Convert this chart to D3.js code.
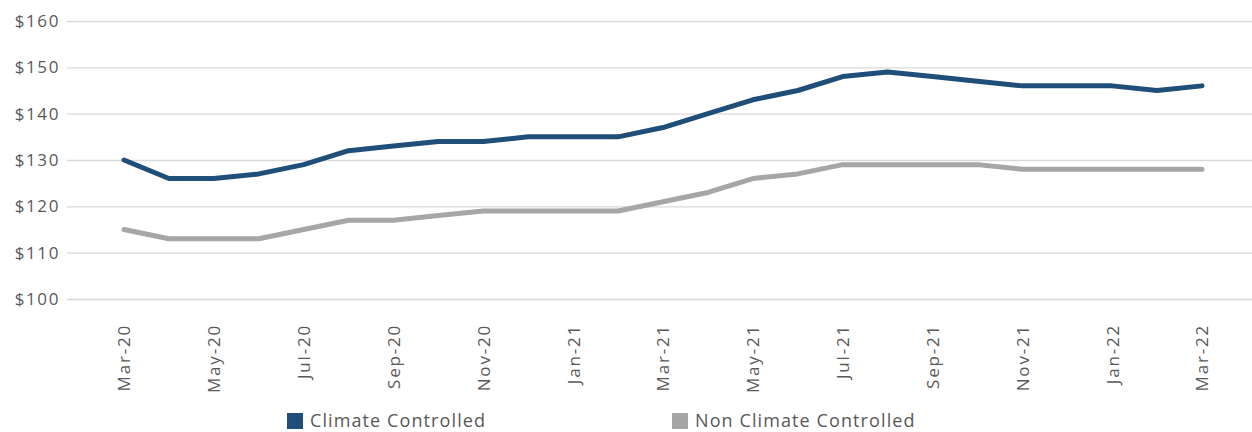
<!DOCTYPE html>
<html>
<head>
<meta charset="utf-8">
<script src="https://cdn.jsdelivr.net/npm/d3@7"></script>
<style>
    body { margin: 0; background: #ffffff; }
    text { font-family: "Open Sans", sans-serif; fill: #595959; }
</style>
</head>
<body>
<svg id="chart" width="1252" height="432"></svg>
<script>
const months = ["Mar-20", "Apr-20", "May-20", "Jun-20", "Jul-20", "Aug-20", "Sep-20", "Oct-20", "Nov-20",
    "Dec-20", "Jan-21", "Feb-21", "Mar-21", "Apr-21", "May-21", "Jun-21", "Jul-21", "Aug-21", "Sep-21",
    "Oct-21", "Nov-21", "Dec-21", "Jan-22", "Feb-22", "Mar-22"];
const climate = [130, 126, 126, 127, 129, 132, 133, 134, 134, 135, 135, 135, 137, 140, 143, 145, 148, 149, 148,
    147, 146, 146, 146, 145, 146];
const non_climate = [115, 113, 113, 113, 115, 117, 117, 118, 119, 119, 119, 119, 121, 123, 126, 127, 129, 129, 129,
    129, 128, 128, 128, 128, 128];
const y_ticks = [100, 110, 120, 130, 140, 150, 160];
const series = [
    {name: "Climate Controlled", values: climate, color: "#1f4e79"},
    {name: "Non Climate Controlled", values: non_climate, color: "#a6a6a6"}
];

const svg = d3.select("#chart");

const x = d3.scalePoint().domain(months).range([124, 1202]);
const y = d3.scaleLinear().domain([100, 160]).range([299, 21]);

// gridlines + y labels
const y_axis = svg.append("g")
    .attr("transform", "translate(67,0)")
    .call(d3.axisLeft(y).tickValues(y_ticks).tickSize(-1185).tickFormat(d => "$" + d).tickPadding(7));
y_axis.select(".domain").remove();
y_axis.selectAll("line").attr("stroke", "#d9d9d9").attr("stroke-width", 1.3);
y_axis.selectAll("text")
    .style("font-size", "17px")
    .style("letter-spacing", "1.6px")
    .attr("fill", "#595959");

// x labels, every other month
const x_axis = svg.append("g")
    .attr("transform", "translate(0,299)")
    .call(d3.axisBottom(x).tickValues(months.filter((m, i) => i % 2 === 0)).tickSize(0));
x_axis.select(".domain").remove();
x_axis.selectAll("text")
    .style("font-size", "17px")
    .style("letter-spacing", "1.8px")
    .attr("fill", "#595959")
    .attr("text-anchor", "end")
    .attr("transform", "translate(0,25) rotate(-90)")
    .attr("x", 0)
    .attr("y", 0)
    .attr("dy", "0.35em");

const line = d3.line()
    .x((d, i) => x(months[i]))
    .y(d => y(d));

svg.selectAll(".Series")
    .data(series)
    .join("path")
    .attr("class", "Series")
    .attr("fill", "none")
    .attr("stroke", d => d.color)
    .attr("stroke-width", 5)
    .attr("stroke-linejoin", "round")
    .attr("stroke-linecap", "round")
    .attr("d", d => line(d.values));

// legend
const legend_x = [287, 672];
const legend = svg.selectAll(".Legend")
    .data(series)
    .join("g")
    .attr("class", "Legend")
    .attr("transform", (d, i) => `translate(${legend_x[i]},413)`);
legend.append("rect")
    .attr("width", 16)
    .attr("height", 16)
    .attr("fill", d => d.color);
legend.append("text")
    .attr("x", 23)
    .attr("y", 8)
    .attr("dy", "0.35em")
    .style("font-size", "18px")
    .style("letter-spacing", "1.1px")
    .text(d => d.name);
</script>
</body>
</html>
